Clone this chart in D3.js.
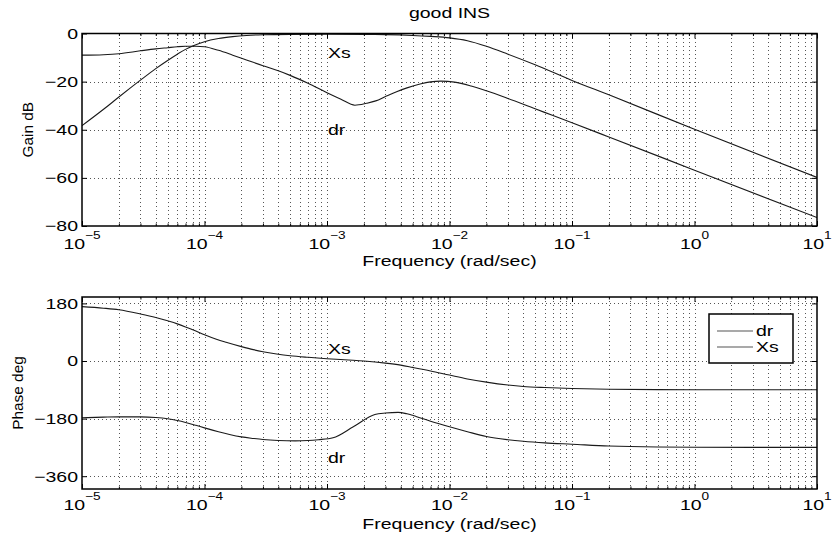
<!DOCTYPE html>
<html><head><meta charset="utf-8">
<script src="https://cdn.jsdelivr.net/npm/d3@7"></script>
<style>
body{margin:0;background:#fff}
svg{display:block}
text{font-family:"Liberation Sans",Arial,Helvetica,sans-serif;fill:#000}
</style>
</head><body>
<svg id="chart" width="833" height="539"></svg>
<script>
// ---------------- data ----------------
const titleText = "good INS";
const xLabelText = "Frequency (rad/sec)";
const gainLabelText = "Gain dB";
const phaseLabelText = "Phase deg";
const decadeExponents = [-5, -4, -3, -2, -1, 0, 1];
const gainTicks = [-80, -60, -40, -20, 0];
const phaseTicks = [-360, -180, 0, 180];
const legendNames = ["dr", "Xs"];

const xsGainFreq = [1e-5, 1.5e-5, 2e-5, 3e-5, 4e-5, 5e-5, 6e-5, 7e-5, 8e-5, 1e-4, 1.3e-4, 1.7e-4, 2.2e-4, 3e-4, 5e-4, 1e-3, 2e-3, 3e-3, 5e-3, 7e-3, 1e-2, 1.4e-2, 2e-2, 3e-2, 5e-2, 0.1, 0.2, 1, 10];
const xsGainDb   = [-38.3, -31.5, -26.4, -19.4, -14.6, -11.2, -8.6, -6.6, -5.2, -3.4, -2.1, -1.3, -0.8, -0.5, -0.35, -0.3, -0.35, -0.45, -0.8, -1.2, -1.8, -3.0, -5.3, -8.6, -13.0, -19.5, -25.5, -39.8, -59.8];

const drGainFreq = [1e-5, 1.5e-5, 2e-5, 3e-5, 4e-5, 5e-5, 6e-5, 7e-5, 8.5e-5, 1e-4, 1.3e-4, 1.7e-4, 2.2e-4, 3e-4, 4e-4, 5e-4, 7e-4, 1e-3, 1.3e-3, 1.69e-3, 2.1e-3, 2.5e-3, 3e-3, 3.7e-3, 4.5e-3, 5.75e-3, 7e-3, 8.5e-3, 1.1e-2, 1.5e-2, 2e-2, 3e-2, 5e-2, 7e-2, 0.1, 0.2, 1, 10];
const drGainDb   = [-9, -8.8, -8.4, -7.2, -6.4, -5.9, -5.5, -5.3, -5.3, -5.5, -7.0, -9.0, -11.0, -13.4, -15.5, -17.4, -20.7, -24.6, -27.3, -29.8, -29.0, -28.0, -26.2, -24.2, -22.6, -21.0, -20.1, -19.8, -20.2, -21.8, -23.8, -27.0, -31.3, -34.1, -37.1, -43.0, -56.8, -76.5];

const xsPhaseFreq = [1e-5, 1.5e-5, 2e-5, 3e-5, 4e-5, 5e-5, 6e-5, 7e-5, 8.5e-5, 1e-4, 1.25e-4, 1.5e-4, 2e-4, 2.5e-4, 3e-4, 4e-4, 5e-4, 7e-4, 1e-3, 1.5e-3, 2e-3, 3e-3, 4e-3, 5e-3, 7e-3, 1e-2, 1.4e-2, 2e-2, 3e-2, 4e-2, 6e-2, 0.1, 0.2, 0.5, 1, 10];
const xsPhaseDeg  = [170, 165, 160, 147, 136, 125.5, 116, 106.5, 93.5, 82, 68, 58.5, 45, 35.5, 29, 21, 16.5, 11.5, 7, 3, 0, -6.5, -13, -20, -31, -44, -56, -66, -75, -79.5, -83, -86, -88.3, -89.4, -89.7, -90];

const drPhaseFreq = [1e-5, 1.5e-5, 2e-5, 3e-5, 4e-5, 5e-5, 6e-5, 7e-5, 8.5e-5, 1e-4, 1.3e-4, 1.6e-4, 2e-4, 2.5e-4, 3e-4, 4e-4, 5.5e-4, 7e-4, 8.5e-4, 1.12e-3, 1.64e-3, 2.46e-3, 3e-3, 3.8e-3, 4.5e-3, 5.4e-3, 7e-3, 1e-2, 1.4e-2, 2e-2, 3e-2, 4e-2, 6e-2, 0.1, 0.2, 0.5, 1, 10];
const drPhaseDeg  = [-177.5, -175.5, -174.5, -174.5, -176.5, -180.5, -186, -192, -201, -209, -221, -229.5, -237, -242, -245.5, -248.5, -249.5, -248.5, -246, -240, -205.6, -167, -162.5, -160.5, -165, -174, -188, -205.6, -221, -236, -246, -251, -256, -260, -265.5, -268.8, -269.5, -270];

// ---------------- layout ----------------
const SX = 1.3;      // horizontal text stretch of the original figure
const FS = 15;
const L = 82, R = 817;
const svg = d3.select("#chart");
const x = d3.scaleLog().domain([1e-5, 10]).range([L, R]);

const panels = [
  { y: d3.scaleLinear().domain([-80, 0]).range([226, 33.5]), ticks: gainTicks,
    label: gainLabelText, labelX: 33, tickBase: 248.5, xlabBase: 265.5,
    series: [
      { f: xsGainFreq, v: xsGainDb, name: "Xs" },
      { f: drGainFreq, v: drGainDb, name: "dr" }
    ],
    notes: [{t: "Xs", x: 328, y: 58}, {t: "dr", x: 328, y: 135}] },
  { y: d3.scaleLinear().domain([-400, 200]).range([489, 297]), ticks: phaseTicks,
    label: phaseLabelText, labelX: 23, tickBase: 510, xlabBase: 529,
    series: [
      { f: xsPhaseFreq, v: xsPhaseDeg, name: "Xs" },
      { f: drPhaseFreq, v: drPhaseDeg, name: "dr" }
    ],
    notes: [{t: "Xs", x: 328, y: 354}, {t: "dr", x: 328, y: 463}] }
];

function stretchText(g, str, px, py, anchor, size) {
  return g.append("text")
    .attr("transform", `translate(${px},${py}) scale(${SX},1)`)
    .attr("text-anchor", anchor || "start")
    .style("font-size", (size || FS) + "px")
    .text(str);
}
const fmt = v => (v < 0 ? "\u2212" + Math.abs(v) : String(v));

const allX = x.ticks();               // 1..9 per decade
const majors = decadeExponents.map(e => Math.pow(10, e));
const minors = allX.filter(v => !majors.some(m => Math.abs(m - v) / m < 1e-9));

panels.forEach((p, i) => {
  const g = svg.append("g");
  const [yb, yt] = p.y.range();
  const clipId = "clip" + i;
  svg.append("clipPath").attr("id", clipId).append("rect")
    .attr("x", L).attr("y", yt).attr("width", R - L).attr("height", yb - yt);

  // grid
  const grid = g.append("g").attr("stroke", "#555").attr("stroke-width", 1)
    .attr("stroke-dasharray", "1,3").attr("shape-rendering", "crispEdges");
  grid.selectAll("line.v").data(allX.filter(v => x(v) > L + 1 && x(v) < R - 1)).join("line")
    .attr("x1", d => Math.round(x(d)) + 0.5).attr("x2", d => Math.round(x(d)) + 0.5)
    .attr("y1", yt).attr("y2", yb);
  grid.selectAll("line.h").data(p.ticks.filter(v => p.y(v) > yt + 1 && p.y(v) < yb - 1)).join("line")
    .attr("y1", d => Math.round(p.y(d)) + 0.5).attr("y2", d => Math.round(p.y(d)) + 0.5)
    .attr("x1", L).attr("x2", R);

  // curves
  const line = d3.line().x(d => x(d[0])).y(d => p.y(d[1])).curve(d3.curveMonotoneX);
  p.series.forEach(s => {
    g.append("path").attr("clip-path", `url(#${clipId})`)
      .attr("d", line(s.f.map((f, k) => [f, s.v[k]])))
      .attr("fill", "none").attr("stroke", "#1a1a1a").attr("stroke-width", 1.1);
  });

  // ticks (inward, all four sides)
  const strip = a => a.call(s => s.select(".domain").remove());
  g.append("g").attr("transform", `translate(0,${yb})`)
    .call(d3.axisBottom(x).tickValues(majors).tickSize(-5).tickFormat("")).call(strip);
  g.append("g").attr("transform", `translate(0,${yb})`)
    .call(d3.axisBottom(x).tickValues(minors).tickSize(-2.5).tickFormat("")).call(strip);
  g.append("g").attr("transform", `translate(0,${yt})`)
    .call(d3.axisTop(x).tickValues(majors).tickSize(-5).tickFormat("")).call(strip);
  g.append("g").attr("transform", `translate(0,${yt})`)
    .call(d3.axisTop(x).tickValues(minors).tickSize(-2.5).tickFormat("")).call(strip);
  g.append("g").attr("transform", `translate(${L},0)`)
    .call(d3.axisLeft(p.y).tickValues(p.ticks).tickSize(-5).tickFormat("")).call(strip);
  g.append("g").attr("transform", `translate(${R},0)`)
    .call(d3.axisRight(p.y).tickValues(p.ticks).tickSize(-5).tickFormat("")).call(strip);

  // frame
  g.append("rect").attr("x", L).attr("y", yt).attr("width", R - L).attr("height", yb - yt)
    .attr("fill", "none").attr("stroke", "#000").attr("stroke-width", 1.5);

  // x tick labels: 10^e
  decadeExponents.forEach(e => {
    const t = g.append("text")
      .attr("transform", `translate(${x(Math.pow(10, e))},${p.tickBase}) scale(${SX},1)`)
      .attr("text-anchor", "middle").style("font-size", FS + "px");
    t.append("tspan").text("10");
    t.append("tspan").attr("dy", -10).style("font-size", "10.5px").text(fmt(e));
  });
  // y tick labels
  p.ticks.forEach(v => {
    stretchText(g, fmt(v), L - 4, p.y(v) + 5.3, "end");
  });
  // x label
  stretchText(g, xLabelText, (L + R) / 2, p.xlabBase, "middle");
  // y label
  g.append("text")
    .attr("transform", `translate(${p.labelX},${(yt + yb) / 2}) rotate(-90)`)
    .attr("text-anchor", "middle").style("font-size", "15.4px").text(p.label);
  // curve annotations
  p.notes.forEach(n => stretchText(g, n.t, n.x, n.y, "start"));
});

// title
stretchText(svg, titleText, (L + R) / 2, 17.5, "middle");

// legend (bottom panel)
const lg = svg.append("g");
lg.append("rect").attr("x", 709).attr("y", 314).attr("width", 84).attr("height", 49)
  .attr("fill", "#fff").attr("stroke", "#000").attr("stroke-width", 1.5);
legendNames.forEach((n, k) => {
  const yy = 331 + k * 16;
  lg.append("line").attr("x1", 717).attr("x2", 753).attr("y1", yy).attr("y2", yy)
    .attr("stroke", "#555").attr("stroke-width", 1.1);
  stretchText(lg, n, 756, yy + 5, "start");
});
</script>
</body></html>
